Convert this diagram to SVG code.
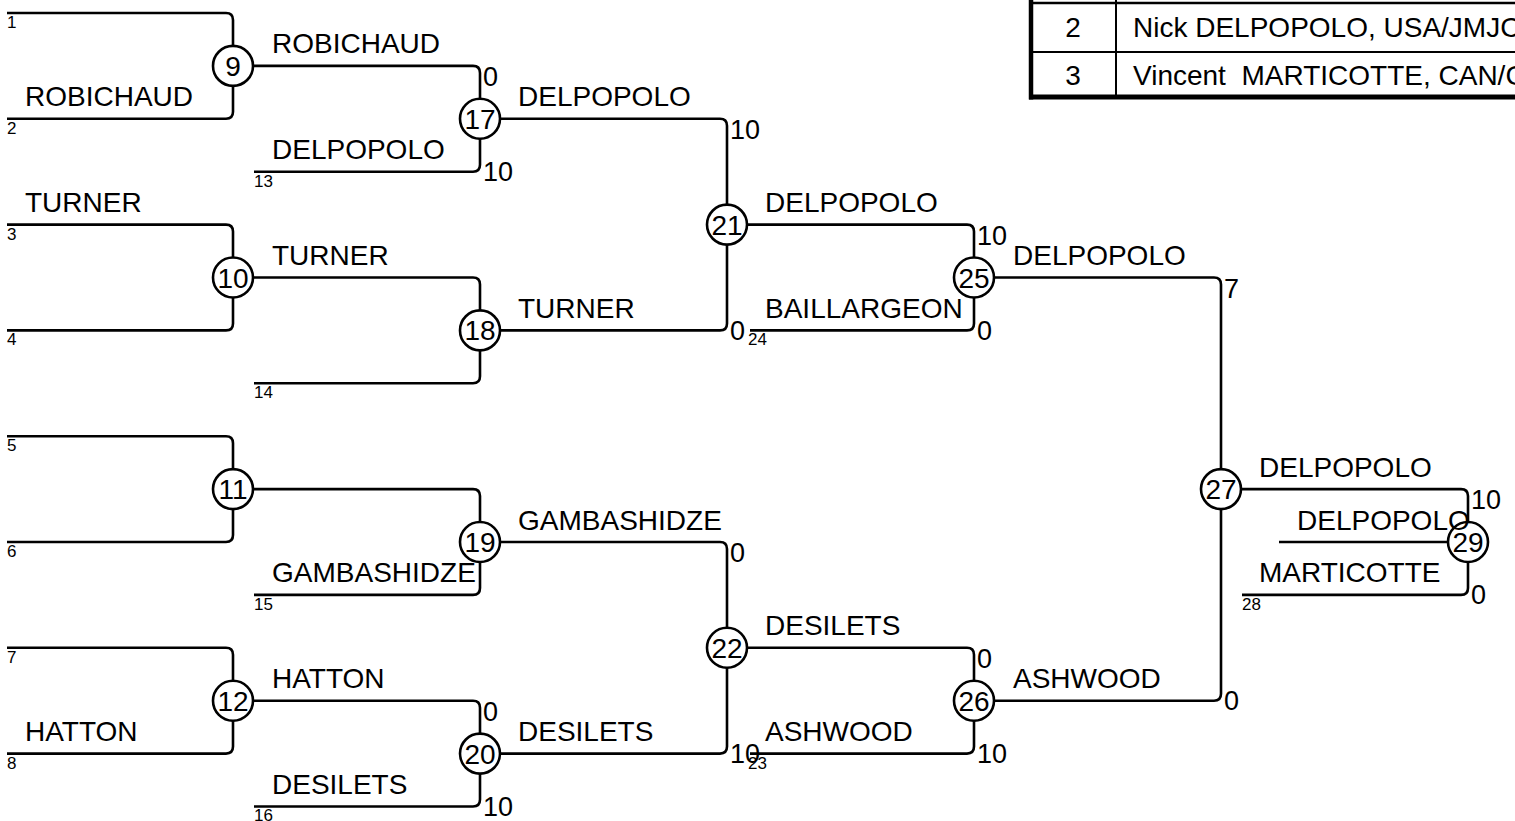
<svg xmlns="http://www.w3.org/2000/svg" width="1515" height="821" viewBox="0 0 1515 821">
<style>
.ln{fill:none;stroke:#000;stroke-width:2.6}
.nd circle{fill:#fff;stroke:#000;stroke-width:2.6}
.nd text{font-family:"Liberation Sans",Arial,sans-serif;font-size:28px;text-anchor:middle;fill:#000}
text{font-family:"Liberation Sans",Arial,sans-serif;fill:#000}
.nm{font-size:28px}
.sc{font-size:27px}
.sm{font-size:17px}
.tb{font-size:28px}
.tl{stroke:#000;fill:none}
</style>
<rect width="1515" height="821" fill="#fff"/>
<g id="table">
<line class="tl" x1="1031" y1="3" x2="1515" y2="3" stroke-width="2.5"/>
<line class="tl" x1="1031" y1="52" x2="1515" y2="52" stroke-width="2"/>
<line class="tl" x1="1116" y1="0" x2="1116" y2="97" stroke-width="2"/>
<line class="tl" x1="1031" y1="0" x2="1031" y2="99.5" stroke-width="4.5"/>
<line class="tl" x1="1029" y1="97" x2="1515" y2="97" stroke-width="5"/>
<text class="tb" x="1073" y="37" text-anchor="middle">2</text>
<text class="tb" x="1133" y="37">Nick DELPOPOLO, USA/JMJC</text>
<text class="tb" x="1073" y="85" text-anchor="middle">3</text>
<text class="tb" x="1133" y="85" xml:space="preserve">Vincent  MARTICOTTE, CAN/C</text>
</g>
<g id="connectors">
<path class="ln" d="M7,13 H226 Q233,13 233,20 V111.8 Q233,118.8 226,118.8 H7"/>
<path class="ln" d="M7,224.6 H226 Q233,224.6 233,231.6 V323.4 Q233,330.4 226,330.4 H7"/>
<path class="ln" d="M7,436.2 H226 Q233,436.2 233,443.2 V535 Q233,542 226,542 H7"/>
<path class="ln" d="M7,647.8 H226 Q233,647.8 233,654.8 V746.6 Q233,753.6 226,753.6 H7"/>
<path class="ln" d="M253,65.9 H473 Q480,65.9 480,72.9 V164.7 Q480,171.7 473,171.7 H254"/>
<path class="ln" d="M253,277.5 H473 Q480,277.5 480,284.5 V376.3 Q480,383.3 473,383.3 H254"/>
<path class="ln" d="M253,489.1 H473 Q480,489.1 480,496.1 V587.9 Q480,594.9 473,594.9 H254"/>
<path class="ln" d="M253,700.7 H473 Q480,700.7 480,707.7 V799.5 Q480,806.5 473,806.5 H254"/>
<path class="ln" d="M500,118.8 H720 Q727,118.8 727,125.8 V323.4 Q727,330.4 720,330.4 H500"/>
<path class="ln" d="M500,542 H720 Q727,542 727,549 V746.6 Q727,753.6 720,753.6 H500"/>
<path class="ln" d="M747,224.6 H967 Q974,224.6 974,231.6 V323.4 Q974,330.4 967,330.4 H750"/>
<path class="ln" d="M747,647.8 H967 Q974,647.8 974,654.8 V746.6 Q974,753.6 967,753.6 H750"/>
<path class="ln" d="M994,277.5 H1214 Q1221,277.5 1221,284.5 V693.7 Q1221,700.7 1214,700.7 H994"/>
<path class="ln" d="M1241,489.1 H1461 Q1468,489.1 1468,496.1 V587.9 Q1468,594.9 1461,594.9 H1242"/>
<path class="ln" d="M1279,542 H1448"/>
</g>
<g id="m9" class="nd"><circle cx="233" cy="65.9" r="20"/><text x="233" y="75.9">9</text></g>
<g id="m10" class="nd"><circle cx="233" cy="277.5" r="20"/><text x="233" y="287.5">10</text></g>
<g id="m11" class="nd"><circle cx="233" cy="489.1" r="20"/><text x="233" y="499.1">11</text></g>
<g id="m12" class="nd"><circle cx="233" cy="700.7" r="20"/><text x="233" y="710.7">12</text></g>
<g id="m17" class="nd"><circle cx="480" cy="118.8" r="20"/><text x="480" y="128.8">17</text></g>
<g id="m18" class="nd"><circle cx="480" cy="330.4" r="20"/><text x="480" y="340.4">18</text></g>
<g id="m19" class="nd"><circle cx="480" cy="542" r="20"/><text x="480" y="552">19</text></g>
<g id="m20" class="nd"><circle cx="480" cy="753.6" r="20"/><text x="480" y="763.6">20</text></g>
<g id="m21" class="nd"><circle cx="727" cy="224.6" r="20"/><text x="727" y="234.6">21</text></g>
<g id="m22" class="nd"><circle cx="727" cy="647.8" r="20"/><text x="727" y="657.8">22</text></g>
<g id="m25" class="nd"><circle cx="974" cy="277.5" r="20"/><text x="974" y="287.5">25</text></g>
<g id="m26" class="nd"><circle cx="974" cy="700.7" r="20"/><text x="974" y="710.7">26</text></g>
<g id="m27" class="nd"><circle cx="1221" cy="489.1" r="20"/><text x="1221" y="499.1">27</text></g>
<g id="m29" class="nd"><circle cx="1468" cy="542" r="20"/><text x="1468" y="552">29</text></g>
<g id="seeds">
<text class="sm" x="7" y="28">1</text>
<text class="sm" x="7" y="133.8">2</text>
<text class="sm" x="7" y="239.6">3</text>
<text class="sm" x="7" y="345.4">4</text>
<text class="sm" x="7" y="451.2">5</text>
<text class="sm" x="7" y="557">6</text>
<text class="sm" x="7" y="662.8">7</text>
<text class="sm" x="7" y="768.6">8</text>
<text class="sm" x="254" y="186.7">13</text>
<text class="sm" x="254" y="398.3">14</text>
<text class="sm" x="254" y="609.9">15</text>
<text class="sm" x="254" y="821">16</text>
<text class="sm" x="748" y="345.4">24</text>
<text class="sm" x="748" y="768.6">23</text>
<text class="sm" x="1242" y="609.9">28</text>
</g>
<g id="names">
<text class="nm" x="25" y="106.3">ROBICHAUD</text>
<text class="nm" x="25" y="212.1">TURNER</text>
<text class="nm" x="25" y="741.1">HATTON</text>
<text class="nm" x="272" y="53.4">ROBICHAUD</text>
<text class="nm" x="272" y="159.2">DELPOPOLO</text>
<text class="nm" x="272" y="265">TURNER</text>
<text class="nm" x="272" y="582.4">GAMBASHIDZE</text>
<text class="nm" x="272" y="688.2">HATTON</text>
<text class="nm" x="272" y="794">DESILETS</text>
<text class="nm" x="518" y="106.3">DELPOPOLO</text>
<text class="nm" x="518" y="317.9">TURNER</text>
<text class="nm" x="518" y="529.5">GAMBASHIDZE</text>
<text class="nm" x="518" y="741.1">DESILETS</text>
<text class="nm" x="765" y="212.1">DELPOPOLO</text>
<text class="nm" x="765" y="317.9">BAILLARGEON</text>
<text class="nm" x="765" y="635.3">DESILETS</text>
<text class="nm" x="765" y="741.1">ASHWOOD</text>
<text class="nm" x="1013" y="265">DELPOPOLO</text>
<text class="nm" x="1013" y="688.2">ASHWOOD</text>
<text class="nm" x="1259" y="476.6">DELPOPOLO</text>
<text class="nm" x="1297" y="529.5">DELPOPOLO</text>
<text class="nm" x="1259" y="582.4">MARTICOTTE</text>
</g>
<g id="scores">
<text class="sc" x="483" y="86.4">0</text>
<text class="sc" x="483" y="181">10</text>
<text class="sc" x="483" y="721">0</text>
<text class="sc" x="483" y="815.5">10</text>
<text class="sc" x="730" y="139">10</text>
<text class="sc" x="730" y="339.6">0</text>
<text class="sc" x="730" y="562.3">0</text>
<text class="sc" x="730" y="762.8">10</text>
<text class="sc" x="977" y="245">10</text>
<text class="sc" x="977" y="339.6">0</text>
<text class="sc" x="977" y="668">0</text>
<text class="sc" x="977" y="762.8">10</text>
<text class="sc" x="1224" y="297.8">7</text>
<text class="sc" x="1224" y="710">0</text>
<text class="sc" x="1471" y="509.4">10</text>
<text class="sc" x="1471" y="604">0</text>
</g>
</svg>
